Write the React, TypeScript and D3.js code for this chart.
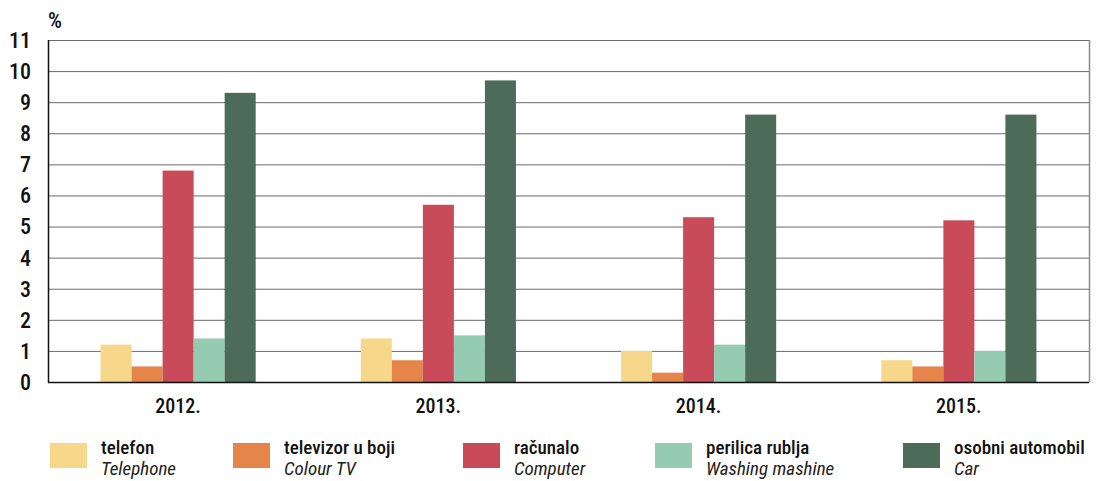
import React, { useRef, useEffect } from 'react';
import * as d3 from 'd3';

const years = ['2012.', '2013.', '2014.', '2015.'];
const seriesHr = ['telefon', 'televizor u boji', 'računalo', 'perilica rublja', 'osobni automobil'];
const seriesEn = ['Telephone', 'Colour TV', 'Computer', 'Washing mashine', 'Car'];
const colors = ['#f7d78a', '#e5854a', '#c94a58', '#95cbb1', '#4c6b59'];

const telefon = [1.2, 1.4, 1.0, 0.7];
const televizor = [0.5, 0.7, 0.3, 0.5];
const racunalo = [6.8, 5.7, 5.3, 5.2];
const perilica = [1.4, 1.5, 1.2, 1.0];
const automobil = [9.3, 9.7, 8.6, 8.6];

const yTicks = [0, 1, 2, 3, 4, 5, 6, 7, 8, 9, 10, 11];

const FONT = "'Liberation Sans Narrow', 'Roboto Condensed', 'DejaVu Sans Condensed', sans-serif";

const App = () => {
  const svgRef = useRef<SVGSVGElement | null>(null);

  useEffect(() => {
    const svg = d3.select(svgRef.current);
    svg.selectAll('*').remove();

    const values = [telefon, televizor, racunalo, perilica, automobil];
    const margin = { top: 40, right: 12, bottom: 99, left: 48 };
    const width = 1101 - margin.left - margin.right;
    const height = 481 - margin.top - margin.bottom;

    const x0 = d3.scaleBand().domain(years).range([0, width]).paddingInner(0.404).paddingOuter(0.202);
    const x1 = d3.scaleBand().domain(seriesHr).range([0, x0.bandwidth()]);
    const y = d3.scaleLinear().domain([0, 11]).range([height, 0]);

    const g = svg.append('g').attr('transform', `translate(${margin.left},${margin.top})`);

    // grid lines
    g.selectAll('.grid')
      .data(yTicks.filter((d) => d > 0))
      .enter()
      .append('line')
      .attr('x1', 0)
      .attr('x2', width)
      .attr('y1', (d) => y(d) + 0.5)
      .attr('y2', (d) => y(d) + 0.5)
      .attr('stroke', '#6b6b6b')
      .attr('stroke-width', 1);

    // right border
    g.append('line')
      .attr('x1', width + 0.5).attr('x2', width + 0.5)
      .attr('y1', y(11)).attr('y2', y(0))
      .attr('stroke', '#8a8a8a').attr('stroke-width', 1.5);

    // bars
    years.forEach((yr, i) => {
      seriesHr.forEach((s, j) => {
        const v = values[j][i];
        g.append('rect')
          .attr('x', (x0(yr) as number) + (x1(s) as number))
          .attr('y', y(v))
          .attr('width', x1.bandwidth())
          .attr('height', y(0) - y(v))
          .attr('fill', colors[j]);
      });
    });

    // axes lines
    g.append('line')
      .attr('x1', 0).attr('x2', width)
      .attr('y1', y(0) + 0.5).attr('y2', y(0) + 0.5)
      .attr('stroke', '#111').attr('stroke-width', 1.5);
    g.append('line')
      .attr('x1', 0.5).attr('x2', 0.5)
      .attr('y1', y(11)).attr('y2', y(0) + 1)
      .attr('stroke', '#111').attr('stroke-width', 1.5);

    // y tick labels
    g.selectAll('.ytick')
      .data(yTicks)
      .enter()
      .append('text')
      .attr('x', -17)
      .attr('y', (d) => y(d))
      .attr('dy', '0.36em')
      .attr('text-anchor', 'end')
      .attr('font-family', FONT)
      .attr('font-size', 22)
      .attr('font-weight', 500)
      .attr('fill', '#111')
      .text((d) => d);

    g.append('text')
      .attr('x', 0)
      .attr('y', -12)
      .attr('font-family', FONT)
      .attr('font-size', 22)
      .attr('font-weight', 500)
      .attr('fill', '#111')
      .text('%');

    // x labels
    g.selectAll('.xtick')
      .data(years)
      .enter()
      .append('text')
      .attr('x', (d) => (x0(d) as number) + x0.bandwidth() / 2)
      .attr('y', y(0) + 31)
      .attr('text-anchor', 'middle')
      .attr('font-family', FONT)
      .attr('font-size', 20)
      .attr('font-weight', 500)
      .attr('fill', '#111')
      .text((d) => d);

    // legend
    const legendX = [50, 233, 463, 655, 903];
    const lg = svg.append('g');
    seriesHr.forEach((s, j) => {
      const item = lg.append('g').attr('transform', `translate(${legendX[j]},443)`);
      item.append('rect').attr('width', 37).attr('height', 25).attr('fill', colors[j]);
      item.append('text')
        .attr('x', 51).attr('y', 11)
        .attr('font-family', FONT)
        .attr('font-size', 19)
        .attr('font-weight', 500)
        .attr('fill', '#111')
        .text(s);
      item.append('text')
        .attr('x', 51).attr('y', 32)
        .attr('font-family', FONT)
        .attr('font-size', 19)
        .attr('font-style', 'italic')
        .attr('fill', '#222')
        .text(seriesEn[j]);
    });
  }, []);

  return (
    <svg
      ref={svgRef}
      width={1101}
      height={481}
      style={{ position: 'absolute', left: 0, top: 0, background: '#fff' }}
    ></svg>
  );
};

export default App;
